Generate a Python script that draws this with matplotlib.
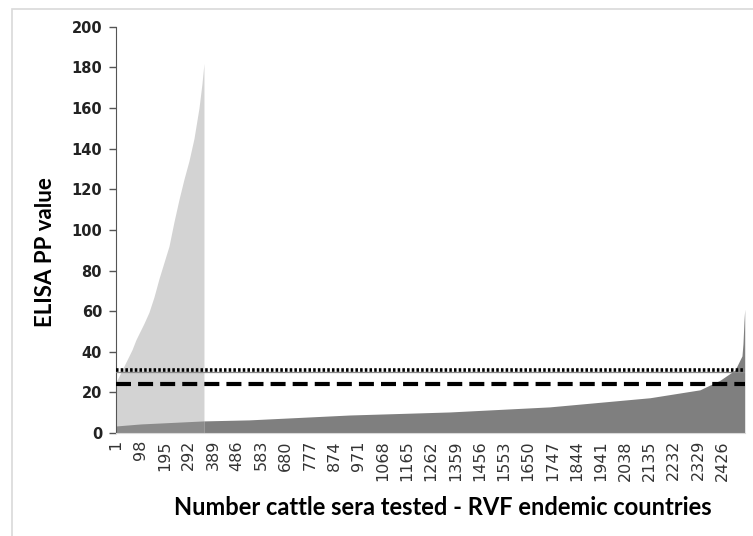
import matplotlib
matplotlib.use('Agg')
import matplotlib.pyplot as plt
from matplotlib.patches import Rectangle
import numpy as np

# sorted PP values, read at breakpoints along the sample index
N_SERA = 2516
pos_idx = [1, 13, 33, 53, 65, 81, 113, 133, 153, 173, 193, 213, 233, 253, 273,
           293, 313, 333, 345, 353]
pos_pp = [25, 28, 33, 38, 41, 46, 54, 59.5, 67, 76, 84, 92, 104, 115, 125,
          134, 145, 160, 172, 182]
neg_idx = [1, 100, 353, 534, 935, 1336, 1736, 2137, 2337, 2417, 2477, 2505,
           2509, 2513, 2516]
neg_pp = [3.5, 4.5, 6.0, 6.5, 8.9, 10.4, 12.9, 17.4, 21.3, 26, 31, 38, 44, 55, 61]
cutoff_dot = 31
cutoff_dash = 24.3
tick_pos = list(range(1, 2427, 97))

fig = plt.figure(figsize=(7.53, 5.36), dpi=100)
ax = fig.add_axes([0.154, 0.192, 0.835, 0.758])

pos_idx = np.array(pos_idx)
neg_idx = np.array(neg_idx)
neg_pp = np.array(neg_pp)
split = 353
left = neg_idx <= split
right = neg_idx >= split

ax.fill_between(pos_idx, 0, pos_pp, color='#d3d3d3', lw=0, zorder=1)
ax.fill_between(neg_idx[left], 0, neg_pp[left], color='#8b8b8b', lw=0, zorder=2)
ax.fill_between(neg_idx[right], 0, neg_pp[right], color='#7f7f7f', lw=0, zorder=2)

ax.axhline(cutoff_dot - 0.7, color='#8a8a8a', lw=0.9, zorder=3)
ax.axhline(cutoff_dot, color='black', lw=2.6, dashes=(0.7, 0.6), zorder=4)
ax.axhline(cutoff_dash, color='black', lw=3.0, dashes=(3.6, 1.7), zorder=4)

ax.set_xlim(1, N_SERA)
ax.set_ylim(0, 200)
ax.set_yticks(range(0, 201, 20))
ax.set_xticks(tick_pos)
ax.set_xticklabels([str(t) for t in tick_pos], rotation=90,
                   fontsize=11.5, family='DejaVu Sans', color='#333333')
for lab in ax.get_yticklabels():
    lab.set_fontweight('bold')
    lab.set_fontsize(10.5)
    lab.set_color('#222222')
ax.tick_params(axis='y', length=5, width=1, color='#555555', pad=5)
ax.tick_params(axis='x', length=0, pad=5)

for s in ['top', 'right']:
    ax.spines[s].set_visible(False)
ax.spines['left'].set_color('#555555')
ax.spines['bottom'].set_color('#d9d9d9')

fig.text(0.06, 0.53, 'ELISA PP value', rotation=90, ha='center', va='center',
         fontsize=16, fontweight='bold', family='Lato')
fig.text(0.588, 0.054, 'Number cattle sera tested - RVF endemic countries',
         ha='center', va='center', fontsize=17, fontweight='bold', family='Lato')

fig.patches.append(Rectangle((12 / 753, -0.1), 1.2, 1 - 9 / 536 + 0.1,
                             transform=fig.transFigure, fill=False,
                             edgecolor='#d9d9d9', lw=1.2))

fig.savefig('out.png', dpi=100)
